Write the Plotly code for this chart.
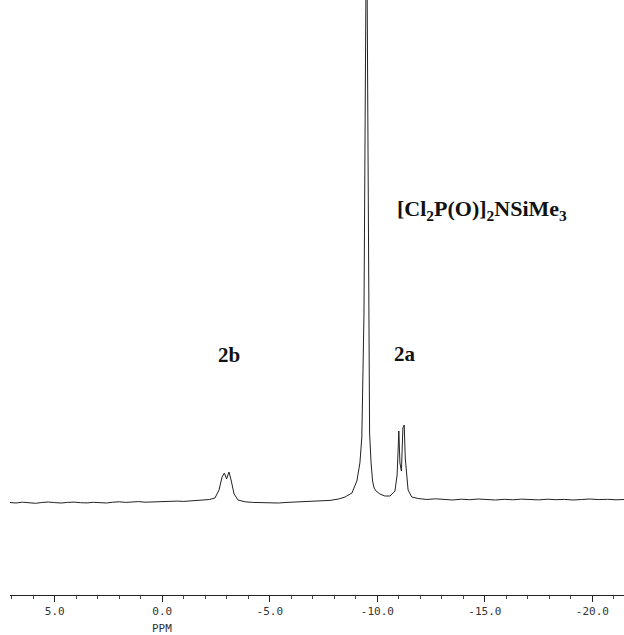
import plotly.graph_objects as go

# Spectrum trace: chemical shift (ppm) and intensity (arbitrary, baseline ~0)
ppm = [7.08, 6.8, 6.5, 6.2, 5.9, 5.6, 5.3, 5.0, 4.7, 4.4, 4.1, 3.8, 3.5, 3.2, 2.9, 2.6, 2.3, 2.0,
       1.7, 1.4, 1.1, 0.8, 0.5, 0.2, -0.1, -0.4, -0.7, -1.0, -1.3, -1.6, -1.9, -2.2,
       -2.45, -2.64, -2.78, -2.89, -2.99, -3.10, -3.20, -3.34, -3.52, -3.85,
       -4.2, -4.6, -5.0, -5.4, -5.8, -6.2, -6.6, -7.0, -7.4, -7.8, -8.2, -8.5,
       -8.82, -9.05, -9.19, -9.28, -9.38, -9.45, -9.50, -9.55, -9.59, -9.64, -9.71,
       -9.78, -9.85, -9.94, -10.12, -10.35, -10.59, -10.82, -10.92, -10.97, -11.00,
       -11.05, -11.12, -11.19, -11.25, -11.30, -11.43, -11.60, -11.9, -12.3, -12.7,
       -13.1, -13.5, -13.9, -14.3, -14.7, -15.1, -15.5, -15.9, -16.3, -16.7, -17.1,
       -17.5, -17.9, -18.3, -18.7, -19.1, -19.5, -19.9, -20.3, -20.7, -21.1, -21.47]
intensity = [0.5, 0.0, 0.8, 0.2, -0.3, 0.5, 1.0, 0.4, 0.0, 0.6, 0.9, 0.3, 0.1, 0.7, 0.4, 0.0, 0.8, 1.2,
             0.6, 0.9, 1.4, 0.8, 1.1, 1.6, 1.2, 1.5, 1.9, 1.6, 2.0, 2.4, 2.8, 3.5,
             5.0, 13.0, 26.0, 30.0, 24.0, 31.0, 23.0, 9.0, 3.0, 1.2,
             0.6, 0.2, 0.5, 0.0, 0.6, 1.0, 0.7, 1.2, 1.8, 2.6, 4.0, 6.0,
             10.0, 22.0, 40.0, 66.0, 190.0, 420.0, 620.0, 420.0, 190.0, 70.0, 40.0,
             22.0, 15.0, 12.0, 9.0, 7.0, 7.0, 12.0, 28.0, 70.0, 72.0,
             40.0, 32.0, 75.0, 78.0, 45.0, 13.0, 6.0, 4.5, 3.5, 4.2,
             3.6, 3.0, 3.8, 3.3, 4.0, 3.4, 3.0, 3.7, 3.2, 3.9, 3.5,
             3.1, 3.8, 3.3, 3.6, 3.0, 3.5, 4.0, 3.4, 3.7, 3.2, 3.5]

tick_vals = [5.0, 0.0, -5.0, -10.0, -15.0, -20.0]
tick_text = ["5.0", "0.0", "-5.0", "-10.0", "-15.0", "-20.0"]

fig = go.Figure()
fig.add_trace(go.Scatter(x=ppm, y=intensity, mode="lines",
                         line=dict(color="#222222", width=1), hoverinfo="skip"))

fig.update_layout(
    width=624, height=635,
    margin=dict(l=10, r=0, t=0, b=40),
    paper_bgcolor="white", plot_bgcolor="white",
    showlegend=False,
    xaxis=dict(range=[7.08, -21.47], showgrid=False, zeroline=False,
               showline=True, linecolor="#222222", linewidth=1,
               ticks="outside", ticklen=6, tickcolor="#222222", tickwidth=1,
               tickvals=tick_vals, ticktext=tick_text,
               tickfont=dict(family="DejaVu Sans Mono", size=11, color="#333333"),
               minor=dict(dtick=1, ticks="outside", ticklen=3, tickcolor="#444444")),
    yaxis=dict(range=[-92, 503], visible=False, showgrid=False, zeroline=False),
)

fig.add_annotation(x=-10.82, y=293, xanchor="left", yanchor="middle", showarrow=False,
                   text="<b>[Cl<sub>2</sub>P(O)]<sub>2</sub>NSiMe<sub>3</sub></b>",
                   font=dict(family="Liberation Serif", size=22, color="#111111"))
fig.add_annotation(x=-3.11, y=148, showarrow=False, text="<b>2b</b>",
                   font=dict(family="Liberation Serif", size=21, color="#111111"))
fig.add_annotation(x=-11.29, y=149, showarrow=False, text="<b>2a</b>",
                   font=dict(family="Liberation Serif", size=21, color="#111111"))
fig.add_annotation(x=0.0, y=0, yref="paper", yanchor="top", yshift=-25, showarrow=False,
                   text="PPM", font=dict(family="DejaVu Sans Mono", size=11, color="#333333"))

fig.write_html("out.html")
